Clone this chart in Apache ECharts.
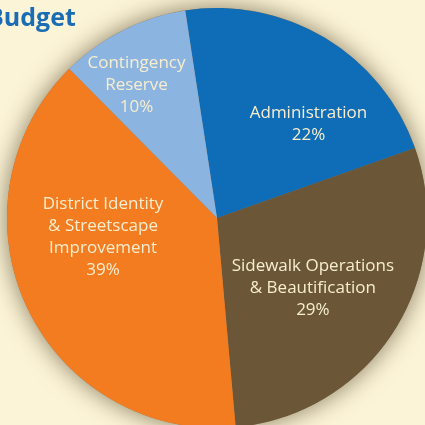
<!DOCTYPE html>
<html>
<head>
<meta charset="utf-8">
<script src="https://cdn.jsdelivr.net/npm/echarts@6/dist/echarts.min.js"></script>
<style>
html,body{margin:0;padding:0;background:#fcf4d6;}
#chart{width:425px;height:425px;}
</style>
</head>
<body>
<div id="chart"></div>
<script>
const titleText = 'Budget';
const categories = ['Administration', 'Sidewalk Operations\n& Beautification', 'District Identity\n& Streetscape\nImprovement', 'Contingency\nReserve'];
const values = [22, 29, 39, 10];
const colors = ['#0f6cb6', '#6b5637', '#f47c20', '#8cb4e0'];
// label nudges from the library's inner label position
const labelNudge = [[36, -1], [5, 12], [-16, -26], [-32, -36]];

const chart = echarts.init(document.getElementById('chart'), null, {renderer: 'canvas'});
const center = [217, 218];
const radius = 210;

chart.setOption({
  backgroundColor: '#fcf4d6',
  animation: false,
  title: {
    text: titleText,
    left: -18,
    top: 1,
    textStyle: {color: '#1a6cb5', fontFamily: 'Open Sans', fontWeight: 'bold', fontSize: 25}
  },
  series: [
    {
      type: 'pie',
      silent: true,
      center: center,
      radius: radius,
      z: 1,
      label: {show: false},
      labelLine: {show: false},
      emphasis: {disabled: true},
      itemStyle: {color: '#8a7a5a', shadowBlur: 24, shadowColor: 'rgba(70,55,30,0.65)'},
      data: [{value: 1}]
    },
    {
      type: 'pie',
      center: center,
      radius: radius,
      startAngle: 98.7,
      clockwise: true,
      z: 2,
      emphasis: {disabled: true},
      label: {
        show: true,
        position: 'inside',
        fontFamily: 'Open Sans',
        fontSize: 17,
        lineHeight: 22,
        color: '#f7eed0',
        align: 'center',
        formatter: p => p.name + '\n' + p.value + '%'
      },
      labelLayout: p => ({dx: labelNudge[p.dataIndex][0], dy: labelNudge[p.dataIndex][1]}),
      labelLine: {show: false},
      data: categories.map((c, i) => ({name: c, value: values[i], itemStyle: {color: colors[i]}}))
    }
  ]
});
</script>
</body>
</html>
